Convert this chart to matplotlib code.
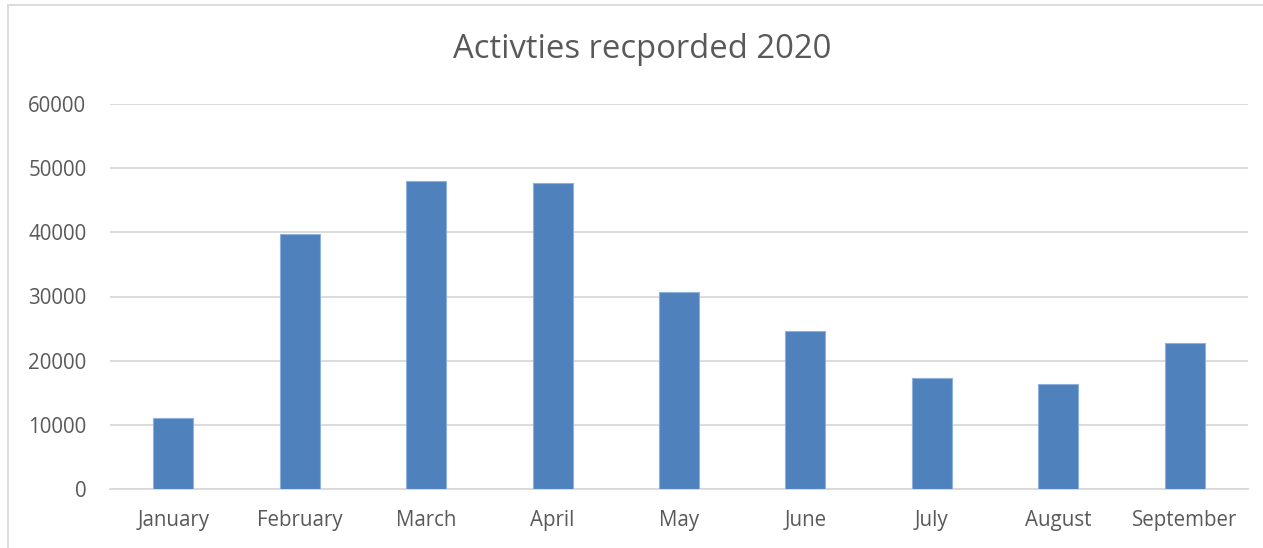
import matplotlib
matplotlib.use("Agg")
import matplotlib.pyplot as plt
from matplotlib.lines import Line2D

months = ["January", "February", "March", "April", "May", "June",
          "July", "August", "September"]
activities = [11120, 39670, 48040, 47730, 30640, 24560, 17240, 16300, 22690]
y_ticks = [0, 10000, 20000, 30000, 40000, 50000, 60000]

text_color = "#595959"
grid_color = "#D9D9D9"
bar_color = "#4F81BD"

plt.rcParams["font.family"] = ["Open Sans", "DejaVu Sans"]

fig = plt.figure(figsize=(12.63, 5.48), dpi=100)
ax = fig.add_axes([110 / 1263, 59 / 548, (1248 - 110) / 1263, (489 - 104) / 548])

x = range(len(months))
ax.bar(x, activities, width=0.316, color=bar_color, edgecolor="#8DB0DC",
       linewidth=0.8, zorder=3)

ax.set_xlim(-0.5, len(months) - 0.5)
ax.set_ylim(0, 60000)
ax.set_yticks(y_ticks)
ax.set_yticklabels([str(v) for v in y_ticks])
ax.set_xticks(list(x))
ax.set_xticklabels(months)

ax.yaxis.grid(True, color=grid_color, linewidth=1.3, zorder=0)
ax.set_axisbelow(True)
for side in ("left", "right", "top"):
    ax.spines[side].set_visible(False)
ax.spines["bottom"].set_color(grid_color)
ax.spines["bottom"].set_linewidth(1.3)

ax.tick_params(axis="both", length=0, colors=text_color, labelsize=14.8)
ax.tick_params(axis="y", pad=17)
ax.tick_params(axis="x", pad=15)

fig.text(642.5 / 1263, (548 - 49) / 548, "Activties recporded 2020", ha="center",
         va="center", fontsize=23.6, color=text_color)

# chart frame (left and top edges)
fig.add_artist(Line2D([8 / 1263, 8 / 1263], [0, 1 - 5 / 548],
                      transform=fig.transFigure, color=grid_color, linewidth=1.3))
fig.add_artist(Line2D([8 / 1263, 1], [1 - 5 / 548, 1 - 5 / 548],
                      transform=fig.transFigure, color=grid_color, linewidth=1.3))

fig.savefig("out.png", dpi=100, facecolor="white")
